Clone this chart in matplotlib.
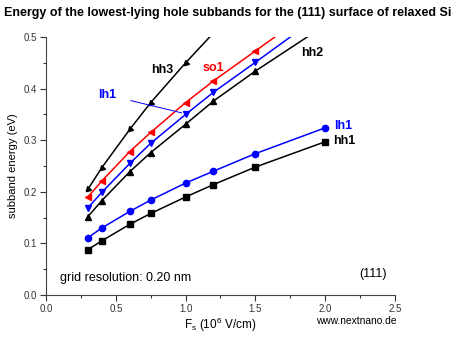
import matplotlib
matplotlib.use("Agg")
import matplotlib.pyplot as plt
from matplotlib.ticker import MultipleLocator

plt.rcParams['font.family'] = ['Liberation Sans', 'DejaVu Sans']

# field values (10^6 V/cm)
fs = [0.3, 0.4, 0.6, 0.75, 1.0, 1.2, 1.5, 2.0]

# subband energies (eV)
hh1 = [0.088, 0.105, 0.137, 0.158, 0.190, 0.214, 0.248, 0.297]
lh1_low = [0.111, 0.130, 0.162, 0.184, 0.217, 0.240, 0.274, 0.324]
hh2 = [0.152, 0.183, 0.239, 0.276, 0.331, 0.376, 0.434, 0.523]
lh1 = [0.169, 0.199, 0.255, 0.294, 0.350, 0.393, 0.451, 0.549]
so1 = [0.190, 0.221, 0.278, 0.315, 0.373, 0.415, 0.473, 0.570]
hh3_x = [0.3, 0.4, 0.6, 0.75, 1.0, 1.2]
hh3 = [0.205, 0.247, 0.321, 0.373, 0.450, 0.508]

fig = plt.figure(figsize=(4.56, 3.43), dpi=100)
ax = fig.add_axes([0.101, 0.140, 0.765, 0.752])

ms = 4.5
ax.plot(fs, hh1, color='black', marker='s', ms=ms, lw=1.1)
ax.plot(fs, lh1_low, color='blue', marker='o', ms=ms, lw=1.1)
ax.plot(fs, hh2, color='black', marker='^', ms=ms, lw=1.1)
ax.plot(fs, lh1, color='blue', marker='v', ms=ms, lw=1.1)
ax.plot(fs, so1, color='red', marker='<', ms=ms, lw=1.1)
ax.plot(hh3_x, hh3, color='black', marker=(3, 0, 135), ms=ms, lw=1.1)

ax.set_xlim(0, 2.5)
ax.set_ylim(0, 0.5)
ax.xaxis.set_major_locator(MultipleLocator(0.5))
ax.xaxis.set_minor_locator(MultipleLocator(0.25))
ax.yaxis.set_major_locator(MultipleLocator(0.1))
ax.yaxis.set_minor_locator(MultipleLocator(0.05))
ax.xaxis.set_major_formatter(lambda v, p: f"{v:.1f}")
ax.yaxis.set_major_formatter(lambda v, p: f"{v:.1f}")
ax.tick_params(which='both', direction='out', labelsize=7, colors='#333333', width=0.8, pad=2.5)
ax.tick_params(which='major', length=4)
ax.tick_params(which='minor', length=2.5)
for s in ['top', 'right']:
    ax.spines[s].set_visible(False)
for s in ['left', 'bottom']:
    ax.spines[s].set_color('#444444')

ax.set_ylabel('subband energy (eV)', fontsize=8)
ax.set_xlabel(r'F$_\mathregular{s}$ (10$^\mathregular{6}$ V/cm)', fontsize=8.5, labelpad=1)

bold = dict(fontsize=9, fontweight='bold')
ax.text(0.835, 0.437, 'hh3', color='black', ha='center', va='center', **bold)
ax.text(1.2, 0.44, 'so1', color='red', ha='center', va='center', **bold)
ax.text(1.83, 0.470, 'hh2', color='black', ha='left', va='center', **bold)
ax.text(2.065, 0.328, 'lh1', color='blue', ha='left', va='center', **bold)
ax.text(2.06, 0.298, 'hh1', color='black', ha='left', va='center', **bold)
ax.annotate('lh1', xy=(0.972, 0.353), xytext=(0.435, 0.388), color='blue',
            ha='center', va='center',
            arrowprops=dict(arrowstyle='-', color='blue', lw=0.7, shrinkA=9, shrinkB=0),
            **bold)

ax.text(0.1, 0.033, 'grid resolution: 0.20 nm', fontsize=9, va='center')
ax.text(2.34, 0.041, '(111)', fontsize=9, ha='center', va='center')
fig.text(0.782, 0.064, 'www.nextnano.de', fontsize=7.4, ha='center', va='center')
fig.text(0.5, 0.962, 'Energy of the lowest-lying hole subbands for the (111) surface of relaxed Si',
         fontsize=9, fontweight='bold', ha='center', va='center')

fig.savefig('out.png', dpi=100)
